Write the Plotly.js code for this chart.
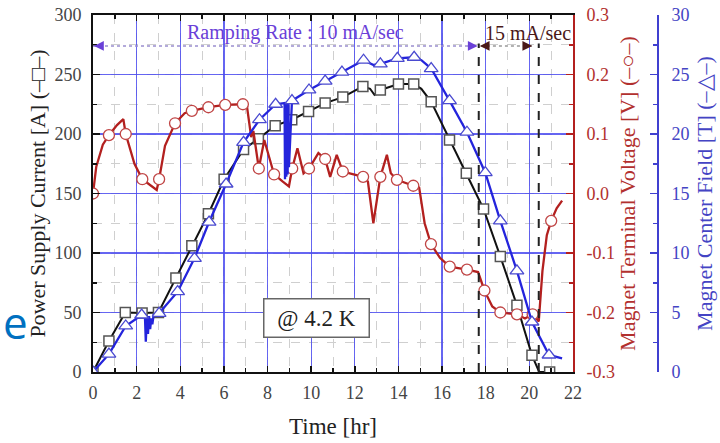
<!DOCTYPE html>
<html>
<head>
<meta charset="utf-8">
<script src="https://cdn.plot.ly/plotly-3.0.1.min.js"></script>
<style>html,body{margin:0;padding:0;background:#fff;}#chart{width:720px;height:443px;}</style>
</head>
<body>
<div id="chart"></div>
<script>
// ---- Power supply current [A] (black, squares) ----
const currentTime = [0, 0.73, 1.48, 2.25, 3.0, 3.8, 4.53, 5.29, 6.01, 6.9, 7.58, 8.35, 9.11, 9.88, 10.64, 11.45, 12.37, 12.7, 12.9, 13.17, 14.0, 14.7, 15.05, 15.5, 16.34, 17.11, 17.9, 18.67, 19.43, 20.12, 20.45, 20.93];
const currentA    = [0, 26, 50, 49.5, 50, 79, 106, 133, 162, 187, 196, 207, 212, 219, 226, 231, 240, 238, 233, 237, 242, 242, 238, 227, 195, 167, 137, 97, 56, 14, 0, 0];
const currentMarkTime = [0, 0.73, 1.48, 2.25, 3.0, 3.8, 4.53, 5.29, 6.01, 6.9, 7.58, 8.35, 9.11, 9.88, 10.64, 11.45, 12.37, 13.17, 14.0, 14.7, 15.5, 16.34, 17.11, 17.9, 18.67, 19.43, 20.12, 20.93];
const currentMarkA    = [0, 26, 50, 49.5, 50, 79, 106, 133, 162, 187, 196, 207, 212, 219, 226, 231, 240, 237, 242, 242, 227, 195, 167, 137, 97, 56, 14, 0];

// ---- Magnet terminal voltage [V] (red, circles) ----
const voltageTime = [0, 0.15, 0.45, 0.73, 1.1, 1.39, 1.5, 1.9, 2.26, 2.92, 3.03, 3.3, 3.76, 4.2, 4.53, 5.29, 6.06, 6.87, 7.05, 7.25, 7.35, 7.6, 7.85, 8.3, 8.7, 8.98, 9.13, 9.37, 9.65, 9.9, 10.33, 10.64, 10.87, 11.17, 11.45, 11.9, 12.38, 12.6, 12.85, 13.17, 13.47, 13.65, 13.93, 14.68, 14.95, 15.2, 15.49, 15.9, 16.35, 17.14, 17.65, 17.94, 18.3, 18.67, 19.43, 19.8, 20.15, 20.43, 20.6, 20.8, 21.0, 21.25, 21.5];
const voltageV    = [0.0, 0.045, 0.082, 0.098, 0.115, 0.125, 0.1, 0.05, 0.024, 0.006, 0.024, 0.08, 0.118, 0.135, 0.139, 0.145, 0.149, 0.150, 0.148, 0.095, 0.105, 0.042, 0.09, 0.032, 0.02, 0.012, 0.042, 0.076, 0.034, 0.042, 0.068, 0.058, 0.028, 0.065, 0.037, 0.033, 0.028, 0.02, -0.05, 0.028, 0.065, 0.034, 0.023, 0.013, 0.010, -0.05, -0.085, -0.108, -0.123, -0.128, -0.132, -0.163, -0.19, -0.2, -0.203, -0.21, -0.203, -0.215, -0.13, -0.07, -0.046, -0.025, -0.012];
const voltageMarkTime = [0, 0.73, 1.5, 2.26, 3.03, 3.76, 4.53, 5.29, 6.06, 6.87, 7.6, 8.3, 9.13, 9.9, 10.64, 11.45, 12.38, 13.17, 13.93, 14.68, 15.49, 16.35, 17.14, 17.94, 18.67, 19.43, 20.15, 21.0];
const voltageMarkV    = [0.0, 0.098, 0.1, 0.024, 0.024, 0.118, 0.139, 0.145, 0.149, 0.150, 0.042, 0.032, 0.042, 0.042, 0.058, 0.037, 0.028, 0.028, 0.023, 0.013, -0.085, -0.123, -0.128, -0.163, -0.2, -0.203, -0.203, -0.046];

// ---- Magnet center field [T] (blue, triangles) ----
const fieldTime = [0, 0.73, 1.5, 2.23, 2.38, 2.42, 2.47, 2.52, 2.57, 2.62, 2.67, 2.72, 2.78, 3.03, 3.88, 4.65, 5.32, 6.1, 6.9, 7.63, 8.37, 8.78, 8.8, 8.84, 8.86, 8.9, 8.92, 8.96, 8.98, 9.12, 9.9, 10.64, 11.41, 12.4, 12.86, 13.17, 13.95, 14.72, 15.05, 15.5, 16.34, 17.14, 17.98, 18.67, 19.43, 20.12, 20.9, 21.5];
const fieldT    = [0, 1.5, 3.87, 4.79, 4.7, 2.55, 4.6, 3.2, 4.7, 3.6, 4.5, 4.0, 4.8, 4.93, 6.75, 9.55, 12.6, 15.8, 19.3, 21.2, 22.5, 22.6, 16.2, 22.6, 16.4, 22.6, 16.6, 22.7, 17.2, 22.8, 23.7, 24.45, 25.2, 26.2, 25.8, 25.9, 26.35, 26.45, 26.2, 25.5, 22.8, 20.15, 16.75, 12.7, 8.5, 4.2, 1.43, 1.15];
const fieldMarkTime = [0, 0.73, 1.5, 2.23, 3.03, 3.88, 4.65, 5.32, 6.1, 6.9, 7.63, 8.37, 9.12, 9.9, 10.64, 11.41, 12.4, 13.17, 13.95, 14.72, 15.5, 16.34, 17.14, 17.98, 18.67, 19.43, 20.12, 20.9];
const fieldMarkT    = [0, 1.5, 3.87, 4.79, 4.93, 6.75, 9.55, 12.6, 15.8, 19.3, 21.2, 22.5, 22.8, 23.7, 24.45, 25.2, 26.2, 25.9, 26.35, 26.45, 25.5, 22.8, 20.15, 16.75, 12.7, 8.5, 4.2, 1.43];

// ---- axis ticks ----
const timeTicks = [0, 2, 4, 6, 8, 10, 12, 14, 16, 18, 20, 22];
const currentTicks = [0, 50, 100, 150, 200, 250, 300];
const voltageTicks = [-0.3, -0.2, -0.1, 0.0, 0.1, 0.2, 0.3];
const voltageTickText = ['-0.3', '-0.2', '-0.1', '0.0', '0.1', '0.2', '0.3'];
const fieldTicks = [0, 5, 10, 15, 20, 25, 30];

// ---- annotation anchors (time [hr], current [A]) ----
const rampBoundaries = [0, 17.68, 20.43];   // dashed lines / arrow limits
const rampArrowLevel = 274;
const rampLabels = ['Ramping Rate : 10 mA/sec', '15 mA/sec'];
const tempLabel = '@ 4.2 K';

const RED = '#b3201f', BLUE = '#2424dc', BLACK = '#111';
const SERIF = 'Liberation Serif, Times New Roman, serif';

const traces = [
  {x: currentTime, y: currentA, mode: 'lines', line: {color: BLACK, width: 2}, yaxis: 'y', hoverinfo: 'skip'},
  {x: currentMarkTime, y: currentMarkA, mode: 'markers', yaxis: 'y',
   marker: {symbol: 'square', size: 10, color: 'white', line: {color: '#555', width: 1.5}}},
  {x: voltageTime, y: voltageV, mode: 'lines', line: {color: RED, width: 2.3}, yaxis: 'y2'},
  {x: voltageMarkTime, y: voltageMarkV, mode: 'markers', yaxis: 'y2',
   marker: {symbol: 'circle', size: 11, color: 'white', line: {color: '#c04545', width: 1.3}}},
  {x: fieldTime, y: fieldT, mode: 'lines', line: {color: BLUE, width: 2.3}, yaxis: 'y3'},
  {x: fieldMarkTime, y: fieldMarkT, mode: 'markers', yaxis: 'y3',
   marker: {symbol: 'triangle-up', size: 12, color: 'white', line: {color: '#4a4ad0', width: 1.3}}}
];

const gridMajor = 'rgba(75,75,240,0.85)';
const gridMinor = '#cfcfcf';

const layout = {
  width: 720, height: 443,
  margin: {l: 93, r: 62, t: 15, b: 71},
  paper_bgcolor: 'white', plot_bgcolor: 'white',
  showlegend: false,
  font: {family: SERIF, size: 18, color: '#333'},
  xaxis: {
    domain: [0, 480 / 565], range: [0, 22], tickvals: timeTicks,
    showline: true, linecolor: BLACK, linewidth: 2, mirror: 'ticks',
    ticks: 'inside', ticklen: 6, tickwidth: 1.5, tickcolor: BLACK,
    showgrid: true, gridcolor: gridMajor, gridwidth: 1.3, zeroline: false,
    minor: {dtick: 1, ticks: 'inside', ticklen: 4, tickcolor: BLACK, showgrid: true, gridcolor: gridMinor, griddash: 'dash', gridwidth: 1},
    ticklabelstandoff: 3,
    tickfont: {family: SERIF, size: 18, color: '#444'},
    title: {text: 'Time [hr]', font: {family: SERIF, size: 23, color: '#222'}, standoff: 16}
  },
  yaxis: {
    range: [0, 300], tickvals: currentTicks,
    showline: true, linecolor: BLACK, linewidth: 2,
    ticks: 'inside', ticklen: 7, tickwidth: 1.5, tickcolor: BLACK,
    showgrid: true, gridcolor: gridMajor, gridwidth: 1.3, zeroline: false,
    minor: {dtick: 25, ticks: 'inside', ticklen: 4, tickcolor: BLACK, showgrid: true, gridcolor: gridMinor, griddash: 'dash', gridwidth: 1},
    ticklabelstandoff: 6,
    tickfont: {family: SERIF, size: 18, color: '#444'},
    title: {text: 'Power Supply Current [A] (–□–)', font: {family: SERIF, size: 22, color: '#222'}, standoff: 3}
  },
  yaxis2: {
    overlaying: 'y', side: 'right', anchor: 'x', range: [-0.3, 0.3],
    tickvals: voltageTicks, ticktext: voltageTickText,
    showline: true, linecolor: RED, linewidth: 2,
    ticks: 'inside', ticklen: 7, tickwidth: 1.5, tickcolor: RED,
    minor: {dtick: 0.05, ticks: 'inside', ticklen: 4, tickcolor: RED},
    showgrid: false, zeroline: false, ticklabelstandoff: 8,
    tickfont: {family: SERIF, size: 18, color: '#b2302e'},
    title: {text: 'Magnet Terminal Voltage [V] (–○–)', font: {family: SERIF, size: 22, color: '#b2302e'}, standoff: 6}
  },
  yaxis3: {
    overlaying: 'y', side: 'right', anchor: 'free', position: 1, range: [0, 30],
    tickvals: fieldTicks,
    showline: true, linecolor: '#4040d0', linewidth: 2,
    ticks: 'inside', ticklen: 7, tickwidth: 1.5, tickcolor: '#4040d0',
    minor: {dtick: 2.5, ticks: 'inside', ticklen: 4, tickcolor: '#4040d0'},
    showgrid: false, zeroline: false, ticklabelstandoff: 9,
    tickfont: {family: SERIF, size: 18, color: '#4444c4'},
    title: {text: 'Magnet Center Field [T] (–△–)', font: {family: SERIF, size: 22, color: '#4444c4'}, standoff: 7}
  },
  shapes: [
    {type: 'line', xref: 'x', yref: 'y', x0: rampBoundaries[0], x1: rampBoundaries[1] - 0.1, y0: rampArrowLevel, y1: rampArrowLevel, line: {color: '#9a8fd0', width: 1.5, dash: 'dot'}},
    {type: 'line', xref: 'x', yref: 'y', x0: rampBoundaries[1] + 0.1, x1: rampBoundaries[2] - 0.3, y0: rampArrowLevel, y1: rampArrowLevel, line: {color: '#999', width: 1.5, dash: 'dot'}},
    {type: 'line', xref: 'x', yref: 'y', x0: rampBoundaries[1], x1: rampBoundaries[1], y0: 0, y1: rampArrowLevel + 2, line: {color: '#222', width: 2, dash: 'dash'}},
    {type: 'line', xref: 'x', yref: 'y', x0: rampBoundaries[2], x1: rampBoundaries[2], y0: 0, y1: rampArrowLevel + 2, line: {color: '#222', width: 2, dash: 'dash'}}
  ],
  annotations: [
    {xref: 'x', yref: 'y', x: 9.3, y: 285, text: rampLabels[0], showarrow: false,
     font: {family: SERIF, size: 20, color: '#6a40d8'}},
    {xref: 'x', yref: 'y', x: 19.93, y: 285, text: rampLabels[1], showarrow: false,
     font: {family: SERIF, size: 20, color: '#4a1818'}},
    // arrow heads
    {xref: 'x', yref: 'y', x: rampBoundaries[0] + 0.05, y: rampArrowLevel, text: '', showarrow: true, ax: 10, ay: 0, arrowhead: 2, arrowsize: 1.3, arrowwidth: 1.5, arrowcolor: '#6a40d8'},
    {xref: 'x', yref: 'y', x: rampBoundaries[1] - 0.05, y: rampArrowLevel, text: '', showarrow: true, ax: -10, ay: 0, arrowhead: 2, arrowsize: 1.3, arrowwidth: 1.5, arrowcolor: '#6a40d8'},
    {xref: 'x', yref: 'y', x: rampBoundaries[1] + 0.05, y: rampArrowLevel, text: '', showarrow: true, ax: 10, ay: 0, arrowhead: 2, arrowsize: 1.3, arrowwidth: 1.5, arrowcolor: '#4a1818'},
    {xref: 'x', yref: 'y', x: rampBoundaries[2] - 0.3, y: rampArrowLevel, text: '', showarrow: true, ax: -10, ay: 0, arrowhead: 2, arrowsize: 1.3, arrowwidth: 1.5, arrowcolor: '#4a1818'},
    {xref: 'x', yref: 'y', x: 10.26, y: 45, text: tempLabel, showarrow: false,
     font: {family: SERIF, size: 23, color: '#222'}, bgcolor: 'white', bordercolor: '#666', borderwidth: 1.5,
     width: 100, height: 33, borderpad: 2},
    // fragment of slide text at the left edge
    {xref: 'paper', yref: 'paper', x: (1 - 93) / 565, y: (443 - 71 - 322) / 357, xanchor: 'left', yanchor: 'middle',
     text: 'e', showarrow: false, font: {family: 'Open Sans, sans-serif', size: 44, color: '#0070c0'}}
  ]
};

Plotly.newPlot('chart', traces, layout, {displayModeBar: false, staticPlot: true});
</script>
</body>
</html>
